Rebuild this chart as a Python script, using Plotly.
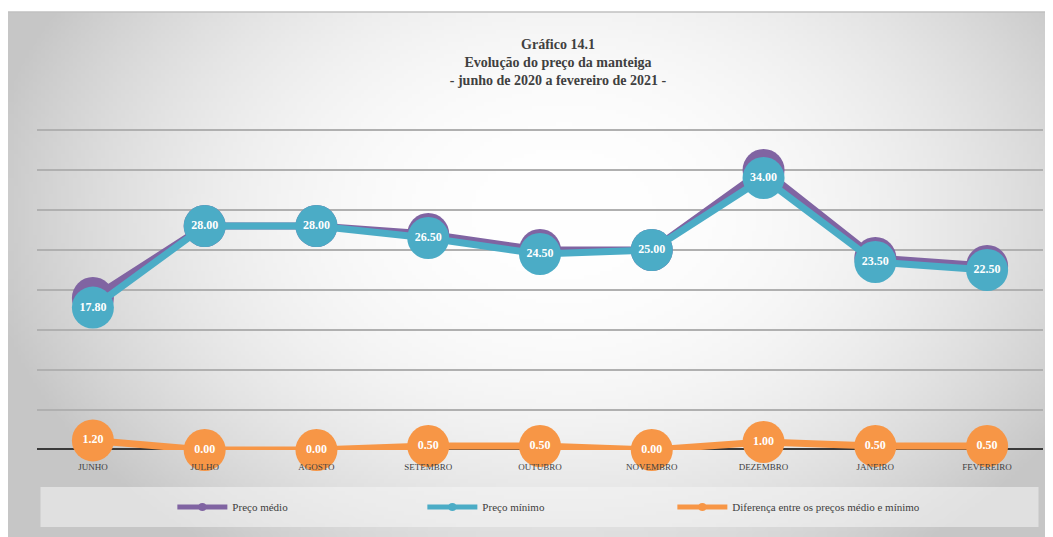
import base64
import struct
import zlib

import numpy as np
import plotly.graph_objects as go

meses = ["JUNHO", "JULHO", "AGOSTO", "SETEMBRO", "OUTUBRO", "NOVEMBRO", "DEZEMBRO", "JANEIRO", "FEVEREIRO"]
preco_medio = [19.00, 28.00, 28.00, 27.00, 25.00, 25.00, 35.00, 24.00, 23.00]
preco_minimo = [17.80, 28.00, 28.00, 26.50, 24.50, 25.00, 34.00, 23.50, 22.50]
diferenca = [1.20, 0.00, 0.00, 0.50, 0.50, 0.00, 1.00, 0.50, 0.50]

ROXO = "#8064A2"
AZUL = "#4BACC6"
LARANJA = "#F79646"
FONTE = "Liberation Serif"

# a pagina tem 8px de margem no body: tudo e medido no referencial da imagem e deslocado
OFF = 8
W, H = 1053 - OFF, 537 - OFF
# area do grafico (px da referencia): x 36.5..1035.5, y 126..450 (0..40.5)
L, R = 36.5 - OFF, 1053 - 1035.5 - OFF
T, B = 126 - OFF, 537 - 450


def px_x(px):
    return (px - OFF - L) / (W - L - R)


def px_y(py):
    return (H - B - (py - OFF)) / (H - T - B)


def png_uri(arr):
    # codifica um array HxWx3 uint8 como PNG em data URI
    h, w, _ = arr.shape
    raw = b"".join(b"\x00" + arr[i].tobytes() for i in range(h))

    def chunk(tag, data):
        c = tag + data
        return struct.pack(">I", len(data)) + c + struct.pack(">I", zlib.crc32(c) & 0xffffffff)

    png = b"\x89PNG\r\n\x1a\n"
    png += chunk(b"IHDR", struct.pack(">IIBBBBB", w, h, 8, 2, 0, 0, 0))
    png += chunk(b"IDAT", zlib.compress(raw, 9))
    png += chunk(b"IEND", b"")
    return "data:image/png;base64," + base64.b64encode(png).decode()


# fundo com gradiente radial (branco no centro, cinza nas bordas)
gw, gh = 262, 131
yy, xx = np.mgrid[0:gh, 0:gw]
cx, cy = gw * 0.53, gh * 0.38
d = np.sqrt(((xx - cx) / (gw * 0.56)) ** 2 + ((yy - cy) / (gh * 0.80)) ** 2)
v = 255 - (255 - 198) * np.clip(d, 0, 1) ** 2.2
grad = np.repeat(v[:, :, None], 3, axis=2).astype(np.uint8)

fig = go.Figure()

series = [
    ("Preço médio", preco_medio, ROXO),
    ("Preço mínimo", preco_minimo, AZUL),
    ("Diferença entre os preços médio e mínimo", diferenca, LARANJA),
]

for nome, valores, cor in series:
    fig.add_trace(go.Scatter(
        x=meses, y=valores, mode="lines+markers+text",
        line=dict(color=cor, width=7),
        marker=dict(color=cor, size=42, line=dict(width=0)),
        text=[f"<b>{v:.2f}</b>" for v in valores],
        textposition="middle center",
        textfont=dict(family=FONTE, size=12, color="white"),
        cliponaxis=False, showlegend=False, hoverinfo="skip",
    ))

# entradas da legenda
for nome, valores, cor in series:
    fig.add_trace(go.Scatter(
        x=[None], y=[None], mode="lines+markers", name=nome,
        line=dict(color=cor, width=5), marker=dict(color=cor, size=8),
    ))

fig.update_layout(
    width=W, height=H,
    margin=dict(l=L, r=R, t=T, b=B),
    paper_bgcolor="white",
    plot_bgcolor="rgba(0,0,0,0)",
    title=dict(
        text="<b>Gráfico 14.1<br>Evolução do preço da manteiga<br>- junho de 2020 a fevereiro de 2021 -</b>",
        x=(558 - OFF) / W, xanchor="center", y=1 - 41 / H, yanchor="top",
        font=dict(family=FONTE, size=14, color="#404040"),
    ),
    xaxis=dict(
        range=[-0.5, 8.5], showgrid=False, showline=False, zeroline=False,
        ticks="", ticklabelstandoff=10,
        tickfont=dict(family=FONTE, size=9, color="#404040"),
        layer="above traces", fixedrange=True,
    ),
    yaxis=dict(
        range=[0, 40.5], dtick=5, showticklabels=False,
        gridcolor="#b0b0b0", gridwidth=1.5, zeroline=False,
        layer="below traces", fixedrange=True,
    ),
    legend=dict(
        orientation="h", x=px_x(172), xanchor="left", y=px_y(507), yanchor="middle",
        entrywidth=185, itemwidth=50, bgcolor="rgba(0,0,0,0)",
        font=dict(family=FONTE, size=11, color="#404040"),
    ),
    images=[dict(
        source=png_uri(grad), xref="paper", yref="paper",
        x=px_x(7), y=px_y(12), sizex=px_x(1053) - px_x(7), sizey=px_y(12) - px_y(537),
        sizing="stretch", layer="below",
    )],
    shapes=[
        dict(type="rect", xref="paper", yref="paper",
             x0=px_x(40), x1=px_x(1039), y0=px_y(487), y1=px_y(527),
             fillcolor="rgba(245,245,245,0.55)", line=dict(width=0), layer="below"),
        dict(type="line", xref="paper", yref="paper",
             x0=px_x(7), x1=px_x(1053), y0=px_y(12), y1=px_y(12),
             line=dict(color="#c0c0c0", width=1.5), layer="below"),
        # eixo horizontal escuro em zero, por baixo dos marcadores
        dict(type="line", xref="paper", yref="y",
             x0=0, x1=1, y0=0, y1=0,
             line=dict(color="#3a3a3a", width=4), layer="below"),
    ],
)

fig.write_html("out.html")
